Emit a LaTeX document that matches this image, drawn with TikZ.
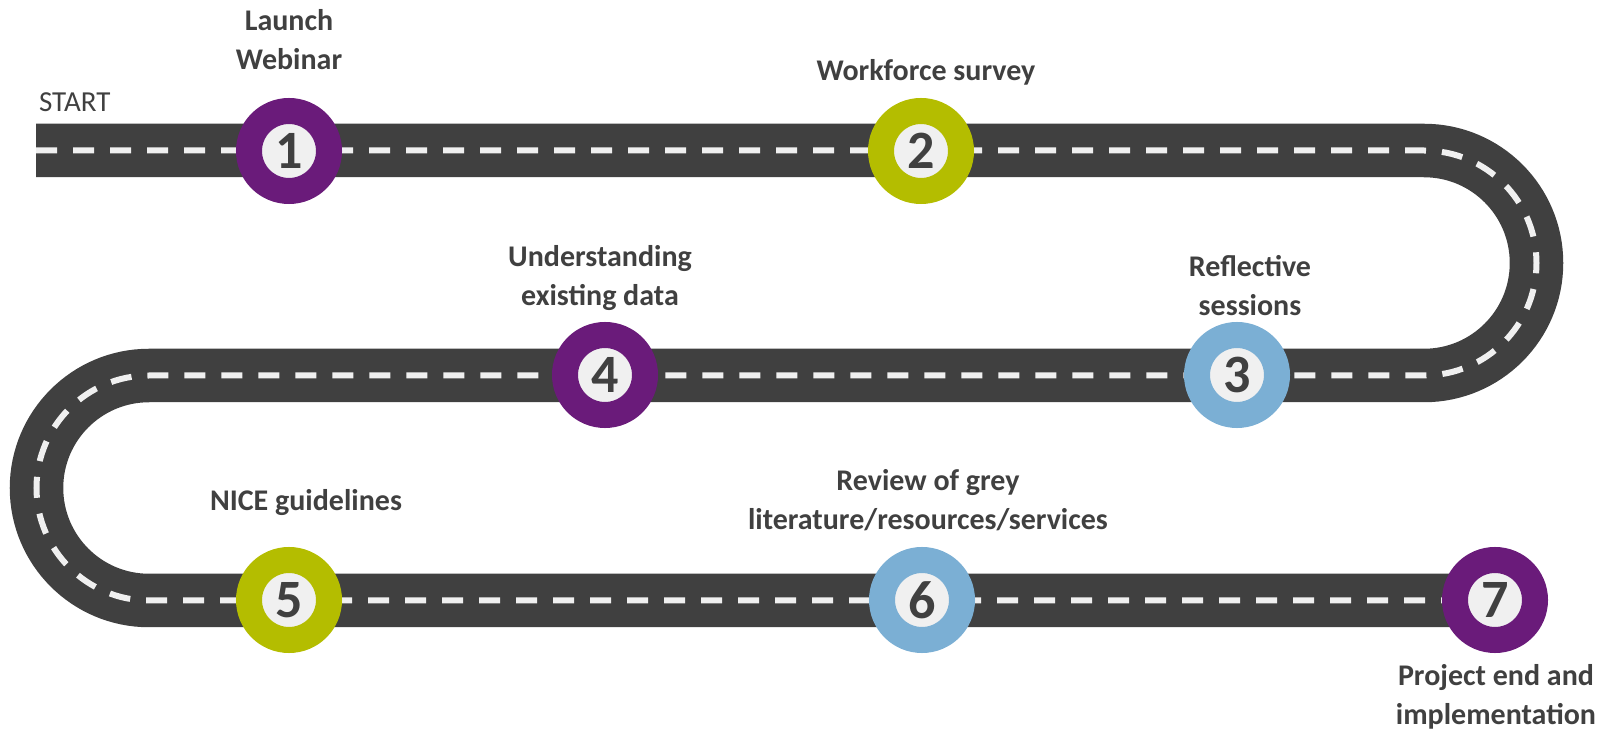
\documentclass[tikz,border=0pt]{standalone}
\usepackage{fontspec}
\setmainfont{Carlito}
\definecolor{roadgrey}{HTML}{404040}
\definecolor{lanewhite}{HTML}{F0F0F0}
\definecolor{txtgrey}{HTML}{404040}
\definecolor{nhspurple}{HTML}{6A1B7A}
\definecolor{nhslime}{HTML}{B4BD00}
\definecolor{nhsblue}{HTML}{7BAFD4}
\begin{document}
\begin{tikzpicture}[x=0.5pt,y=-0.5pt,
  road/.style={draw=roadgrey,line width=26.75pt,
    postaction={draw=lanewhite,line width=3pt,dash pattern=on 10.5pt off 8pt}},
  stop/.style={circle,fill=lanewhite,line width=13pt,minimum size=40pt,inner sep=0pt,
    text=txtgrey,font=\fontsize{27}{27}\selectfont\bfseries},
  label/.style={align=center,text=txtgrey,font=\fontsize{15}{19.5}\selectfont\bfseries}]
\useasboundingbox (0,0) rectangle (1603,732);
% the road
\draw[road] (36,150.5) -- (1424,150.5) arc (-90:90:112.5) -- (149,375.5) arc (270:90:112.5) -- (1460,600.5);
% stops
\node[stop,draw=nhspurple] (s1) at (289,151) {1};
\node[stop,draw=nhslime] (s2) at (921,151) {2};
\node[stop,draw=nhsblue] (s3) at (1237,375) {3};
\node[stop,draw=nhspurple] (s4) at (605,375) {4};
\node[stop,draw=nhslime] (s5) at (289,600) {5};
\node[stop,draw=nhsblue] (s6) at (922,600) {6};
\node[stop,draw=nhspurple] (s7) at (1495,600) {7};
% labels
\node[anchor=west,text=txtgrey,font=\fontsize{14.5}{14.5}\selectfont] (start) at (32,102) {START};
\node[label] (l1) at (289,40) {Launch\\Webinar};
\node[label] (l2) at (926,72) {Workforce survey};
\node[label] (l3) at (1250,286) {Reflective\\sessions};
\node[label] (l4) at (600,278) {Understanding\\existing data};
\node[label] (l5) at (306,503) {NICE guidelines};
\node[label] (l6) at (928,500) {Review of grey\\literature/resources/services};
\node[label] (l7) at (1496,697) {Project end and\\implementation};
\end{tikzpicture}
\end{document}
